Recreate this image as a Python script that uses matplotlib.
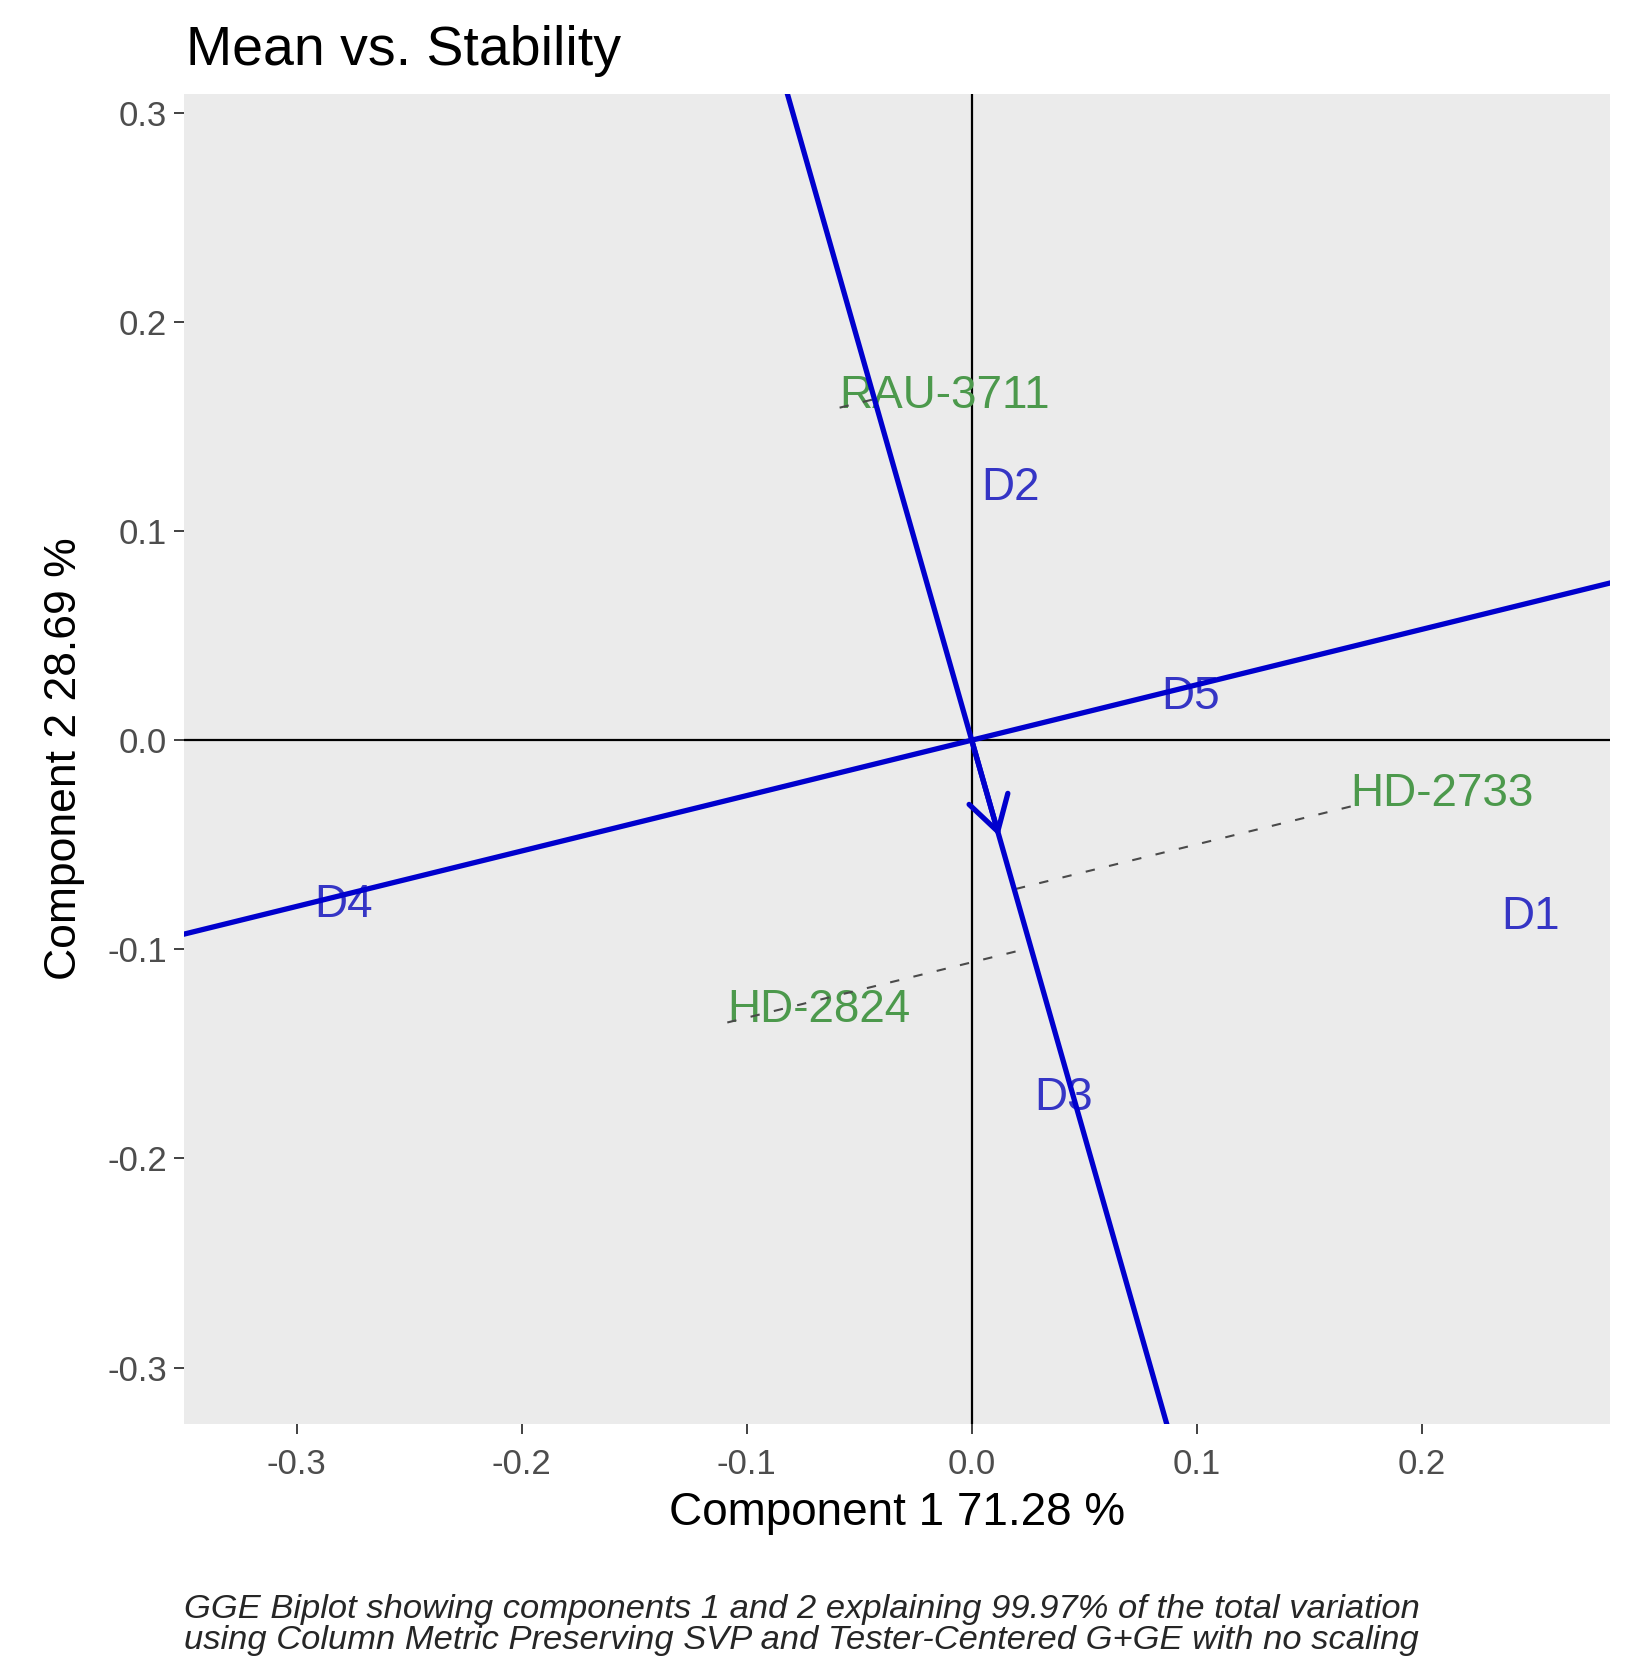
import matplotlib
matplotlib.use('Agg')
import matplotlib.pyplot as plt
import numpy as np

plt.rcParams['font.family'] = ['Liberation Sans', 'DejaVu Sans']

# environments (centred labels)
env_names = ['D1', 'D2', 'D3', 'D4', 'D5']
env_x = [0.2485, 0.0171, 0.0409, -0.2789, 0.0974]
env_y = [-0.0844, 0.1207, -0.171, -0.0788, 0.0205]

# genotypes (label anchored at lower-left)
gen_names = ['RAU-3711', 'HD-2733', 'HD-2824']
gen_x = [-0.0587, 0.1684, -0.1086]
gen_y = [0.159, -0.0317, -0.135]

# average environment axis slope and arrow length along the ATC ordinate
atc_slope = 0.265
arrow_len = 0.0476

xlim = (-0.350, 0.2836)
ylim = (-0.327, 0.309)
xticks = [-0.3, -0.2, -0.1, 0.0, 0.1, 0.2]
yticks = [-0.3, -0.2, -0.1, 0.0, 0.1, 0.2, 0.3]

blue = '#0000CD'
env_col = '#3535C5'
gen_col = '#4C994C'
tick_col = '#4D4D4D'

W, H = 1652, 1676
left, right, top, bottom = 184, 1610, 94, 1424
fig = plt.figure(figsize=(W / 100, H / 100), dpi=100)
ax = fig.add_axes([left / W, 1 - bottom / H, (right - left) / W, (bottom - top) / H])
ax.set_facecolor('#EBEBEB')
for s in ax.spines.values():
    s.set_visible(False)

ax.axhline(0, color='black', lw=1.6, zorder=1)
ax.axvline(0, color='black', lw=1.6, zorder=1)

# ATC abscissa and ordinate through origin
xs = np.array([-0.5, 0.5])
ax.plot(xs, atc_slope * xs, color=blue, lw=3.8, zorder=4, solid_capstyle='butt')
ax.plot(xs, -xs / atc_slope, color=blue, lw=3.8, zorder=4, solid_capstyle='butt')

# projections of genotypes onto ATC ordinate
u = np.array([1.0, -1.0 / atc_slope])
u = u / np.linalg.norm(u)
for gx, gy in zip(gen_x, gen_y):
    t = gx * u[0] + gy * u[1]
    ax.plot([gx, t * u[0]], [gy, t * u[1]], color='#4a4a4a', lw=1.5,
            dashes=(4.5, 7.0), zorder=3)

tip = arrow_len * u
ax.annotate('', xy=(tip[0], tip[1]), xytext=(0, 0),
            arrowprops=dict(arrowstyle='->,head_length=0.42,head_width=0.25',
                            color=blue, lw=3.8, mutation_scale=58,
                            shrinkA=0, shrinkB=0), zorder=5)

for name, x, y in zip(env_names, env_x, env_y):
    ax.text(x, y, name, color=env_col, fontsize=33, ha='center', va='center', zorder=2)
for name, x, y in zip(gen_names, gen_x, gen_y):
    ax.text(x, y, name, color=gen_col, fontsize=33, ha='left', va='baseline', zorder=2)

ax.set_xlim(*xlim)
ax.set_ylim(*ylim)
ax.set_xticks(xticks)
ax.set_xticklabels(['%.1f' % v for v in xticks])
ax.set_yticks(yticks)
ax.set_yticklabels(['%.1f' % v for v in yticks])
ax.tick_params(axis='both', colors='#333333', labelcolor=tick_col, labelsize=25,
               length=7, width=1.3)
ax.tick_params(axis='x', pad=10)
ax.tick_params(axis='y', pad=5)

ax.set_xlabel('Component 1 71.28 %', fontsize=33, va='center')
ax.xaxis.set_label_coords(0.5, -(1513 - bottom) / (bottom - top))
ax.set_ylabel('Component 2 28.69 %', fontsize=32, va='center')
ax.yaxis.set_label_coords(-(left - 65) / (right - left), 0.5)

fig.text(186 / W, 1 - 65 / H, 'Mean vs. Stability', fontsize=40, ha='left', va='baseline')
fig.text(184 / W, 1 - 1656 / H,
         'GGE Biplot showing components 1 and 2 explaining 99.97% of the total variation\n'
         'using Column Metric Preserving SVP and Tester-Centered G+GE with no scaling',
         fontsize=24.8, style='italic', color='#262626', ha='left', va='bottom',
         linespacing=1.0)

fig.savefig('out.png', dpi=100)
